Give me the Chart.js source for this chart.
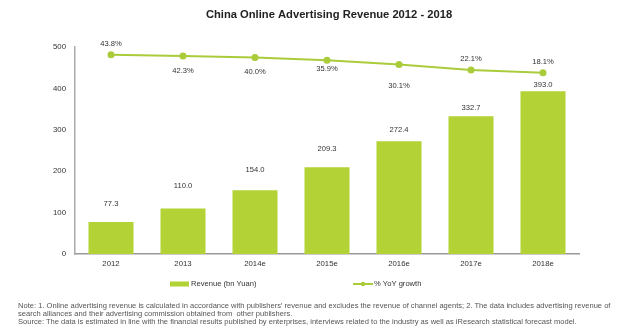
<!DOCTYPE html>
<html>
<head>
<meta charset="utf-8">
<script src="https://cdn.jsdelivr.net/npm/chart.js@4.4.1/dist/chart.umd.min.js"></script>
<style>
  html, body { margin: 0; padding: 0; background: #fff; }
  #wrap { position: relative; width: 624px; height: 330px; }
  #notes { position: absolute; left: 18px; top: 302px; width: 604px; font-family: "Liberation Sans", Arial, sans-serif; font-size: 7.55px; line-height: 7.9px; color: #555; white-space: nowrap; }
</style>
</head>
<body>
<div id="wrap">
  <canvas id="c" width="624" height="330"></canvas>
  <div id="notes">
    <div>Note: 1. Online advertising revenue is calculated in accordance with publishers' revenue and excludes the revenue of channel agents; 2. The data includes advertising revenue of</div>
    <div>search alliances and their advertising commission obtained from&nbsp; other publishers.</div>
    <div>Source: The data is estimated in line with the financial results published by enterprises, interviews related to the industry as well as iResearch statistical forecast model.</div>
  </div>
</div>
<script>
const categories = ["2012", "2013", "2014e", "2015e", "2016e", "2017e", "2018e"];
const revenue = [77.3, 110.0, 154.0, 209.3, 272.4, 332.7, 393.0];
const growth = [43.8, 42.3, 40.0, 35.9, 30.1, 22.1, 18.1];
const yTicks = [0, 100, 200, 300, 400, 500];
const titleText = "China Online Advertising Revenue 2012 - 2018";

const GREEN = "#B2D235";
const LINE_GREEN = "#AACB3A";
const FONT = "'Liberation Sans', Arial, sans-serif";

const labelPlugin = {
  id: "valueLabels",
  afterDatasetsDraw(chart, args, opts) {
    const ctx = chart.ctx;
    ctx.save();
    // title
    ctx.font = "bold 11.2px " + FONT;
    ctx.fillStyle = "#222";
    ctx.textAlign = "center";
    ctx.textBaseline = "middle";
    ctx.fillText(titleText, opts.titleX, opts.titleY);

    ctx.font = "7.6px " + FONT;
    ctx.fillStyle = "#333";
    const barMeta = chart.getDatasetMeta(0);
    barMeta.data.forEach((el, i) => {
      ctx.fillText(revenue[i].toFixed(1), el.x, el.y - opts.barOffsets[i]);
    });
    const lineMeta = chart.getDatasetMeta(1);
    lineMeta.data.forEach((el, i) => {
      ctx.fillText(growth[i].toFixed(1) + "%", el.x, el.y + opts.lineOffsets[i]);
    });
    // custom legend
    const ly = opts.legendY;
    ctx.fillStyle = GREEN;
    ctx.fillRect(opts.legend1X, ly - 2.5, 19, 5);
    ctx.fillStyle = "#333";
    ctx.textAlign = "left";
    ctx.font = "7.6px " + FONT;
    ctx.fillText(chart.data.datasets[0].label, opts.legend1X + 21, ly);
    ctx.strokeStyle = LINE_GREEN;
    ctx.lineWidth = 2;
    ctx.beginPath();
    ctx.moveTo(opts.legend2X, ly);
    ctx.lineTo(opts.legend2X + 20, ly);
    ctx.stroke();
    ctx.fillStyle = LINE_GREEN;
    ctx.beginPath();
    ctx.arc(opts.legend2X + 10, ly, 2.2, 0, Math.PI * 2);
    ctx.fill();
    ctx.fillStyle = "#333";
    ctx.fillText(chart.data.datasets[1].label, opts.legend2X + 21, ly);
    ctx.restore();
  }
};

new Chart(document.getElementById("c"), {
  data: {
    labels: categories,
    datasets: [
      {
        type: "bar",
        label: "Revenue (bn Yuan)",
        data: revenue,
        backgroundColor: GREEN,
        yAxisID: "y",
        categoryPercentage: 1.0,
        barPercentage: 0.625,
        order: 2
      },
      {
        type: "line",
        label: "% YoY growth",
        data: growth,
        borderColor: LINE_GREEN,
        backgroundColor: LINE_GREEN,
        borderWidth: 2,
        pointRadius: 3.5,
        pointBackgroundColor: LINE_GREEN,
        pointBorderWidth: 0,
        tension: 0,
        yAxisID: "y1",
        order: 1
      }
    ]
  },
  options: {
    responsive: false,
    animation: false,
    layout: { padding: { left: 0, right: 45, top: 47, bottom: 0 } },
    plugins: {
      legend: { display: false },
      tooltip: { enabled: false },
      title: { display: false },
      valueLabels: {
        titleX: 329,
        titleY: 15,
        barOffsets: [18, 23, 20, 18, 11, 8, 6],
        lineOffsets: [-11, 15, 14, 9, 21, -11, -11],
        legendY: 284,
        legend1X: 170,
        legend2X: 353
      }
    },
    scales: {
      x: {
        grid: { display: false, drawTicks: false },
        border: { display: true, color: "#999", width: 1.5 },
        ticks: { color: "#333", font: { family: FONT, size: 7.8 }, padding: 5 },
        afterFit(s) { s.height = 76; }
      },
      y: {
        min: 0,
        max: 500,
        afterBuildTicks(s) { s.ticks = yTicks.map(v => ({ value: v })); },
        grid: { display: false, drawTicks: false },
        border: { display: true, color: "#aaa", width: 1.5 },
        ticks: { color: "#333", font: { family: FONT, size: 7.8 }, padding: 9 },
        afterFit(s) { s.width = 75; }
      },
      y1: {
        display: false,
        min: -241,
        max: 55,
        position: "right"
      }
    }
  },
  plugins: [labelPlugin]
});
</script>
</body>
</html>
